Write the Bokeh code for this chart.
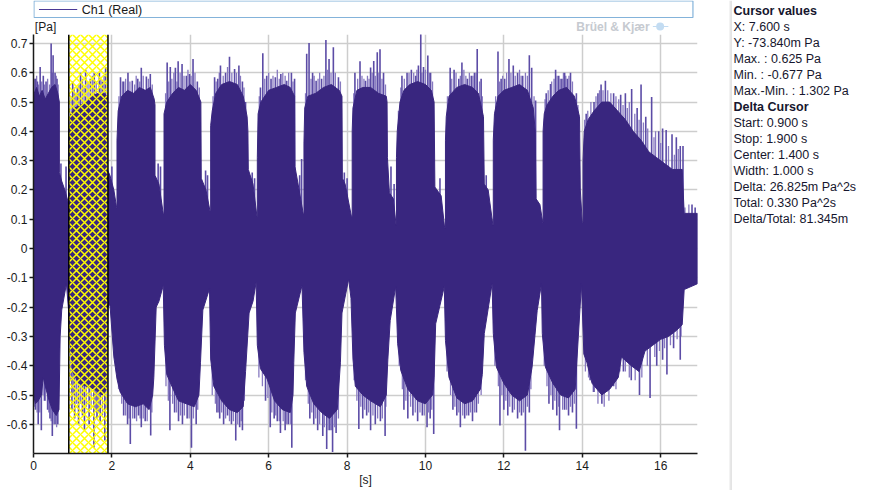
from bokeh.plotting import figure
from bokeh.layouts import row, column
from bokeh.models import Range1d, FixedTicker, Label, Span
from bokeh.embed import file_html
from bokeh.resources import INLINE

# ---------------- data ----------------
# upper envelope of the pressure signal  [s], [Pa]
upper_t = [0.00, 0.02, 0.08, 0.15, 0.22, 0.30, 0.38, 0.46, 0.55, 0.62, 0.66,
           0.66, 0.72, 0.80, 0.90,
           0.92, 0.92, 0.95, 1.05, 1.20, 1.35, 1.50, 1.65, 1.80, 1.88,
           1.88, 1.95, 2.05, 2.12,
           2.13, 2.13, 2.16, 2.25, 2.40, 2.55, 2.70, 2.85, 2.98, 3.08, 3.10,
           3.10, 3.20, 3.31,
           3.33, 3.33, 3.40, 3.55, 3.70, 3.85, 4.00, 4.15, 4.27,
           4.28, 4.40, 4.50,
           4.52, 4.52, 4.56, 4.65, 4.80, 5.00, 5.20, 5.35, 5.45, 5.47,
           5.48, 5.60, 5.70,
           5.71, 5.71, 5.73, 5.80, 6.00, 6.20, 6.40, 6.55, 6.66,
           6.67, 6.75, 6.88,
           6.90, 6.90, 6.92, 7.00, 7.20, 7.40, 7.60, 7.80, 7.87,
           7.88, 7.95, 8.11,
           8.13, 8.13, 8.15, 8.25, 8.40, 8.60, 8.80, 9.00, 9.02,
           9.03, 9.08, 9.18, 9.25,
           9.26, 9.26, 9.28, 9.35, 9.45, 9.60, 9.80, 10.00, 10.15, 10.22,
           10.24, 10.40, 10.49,
           10.51, 10.51, 10.53, 10.60, 10.80, 11.00, 11.20, 11.35, 11.48,
           11.50, 11.60, 11.72,
           11.73, 11.73, 11.76, 11.85, 12.00, 12.20, 12.40, 12.60, 12.75, 12.80,
           12.82, 12.92, 12.99,
           13.00, 13.00, 13.03, 13.10, 13.25, 13.40, 13.60, 13.80, 13.93,
           13.95, 14.00,
           14.02, 14.02, 14.05, 14.15, 14.30, 14.50, 14.70, 14.90, 15.10, 15.30,
           15.50, 15.70, 15.90, 16.10, 16.30, 16.55, 16.60, 16.94]
upper_v = [0.50, 0.53, 0.55, 0.52, 0.54, 0.51, 0.53, 0.55, 0.56, 0.53, 0.50,
           0.26, 0.23, 0.20, 0.15,
           0.16, 0.40, 0.46, 0.48, 0.49, 0.50, 0.52, 0.53, 0.53, 0.52,
           0.27, 0.25, 0.20, 0.14,
           0.14, 0.37, 0.47, 0.52, 0.54, 0.53, 0.55, 0.54, 0.55, 0.51, 0.49,
           0.25, 0.22, 0.12,
           0.12, 0.46, 0.50, 0.53, 0.55, 0.54, 0.56, 0.54, 0.50,
           0.24, 0.20, 0.13,
           0.13, 0.42, 0.47, 0.53, 0.56, 0.57, 0.56, 0.52, 0.45, 0.40,
           0.27, 0.22, 0.11,
           0.11, 0.31, 0.46, 0.50, 0.54, 0.55, 0.56, 0.55, 0.52,
           0.28, 0.22, 0.12,
           0.12, 0.36, 0.48, 0.52, 0.53, 0.55, 0.56, 0.54, 0.52,
           0.24, 0.22, 0.11,
           0.11, 0.40, 0.48, 0.54, 0.55, 0.55, 0.53, 0.52, 0.50,
           0.31, 0.19, 0.17, 0.08,
           0.08, 0.31, 0.40, 0.50, 0.54, 0.56, 0.57, 0.56, 0.54, 0.50,
           0.21, 0.18, 0.07,
           0.07, 0.37, 0.45, 0.52, 0.55, 0.56, 0.55, 0.53, 0.45,
           0.22, 0.20, 0.08,
           0.08, 0.37, 0.46, 0.52, 0.54, 0.55, 0.56, 0.54, 0.48, 0.40,
           0.17, 0.15, 0.09,
           0.09, 0.40, 0.46, 0.49, 0.52, 0.54, 0.55, 0.52, 0.45,
           0.20, 0.09,
           0.09, 0.30, 0.40, 0.44, 0.47, 0.50, 0.50, 0.47, 0.44, 0.40,
           0.37, 0.33, 0.31, 0.29, 0.27, 0.27, 0.12, 0.12]

# lower envelope of the signal
lower_t = [0.00, 0.05, 0.12, 0.20, 0.25, 0.32, 0.40, 0.48, 0.58, 0.65, 0.68, 0.72, 0.84, 0.90,
           0.92, 1.00, 1.15, 1.35, 1.55, 1.75, 1.87, 1.90, 1.95,
           2.05, 2.13, 2.21, 2.40, 2.60, 2.80, 2.95, 3.04, 3.07, 3.13, 3.20, 3.31,
           3.34, 3.40, 3.53, 3.70, 3.90, 4.10, 4.22, 4.26, 4.32, 4.49,
           4.52, 4.60, 4.80, 5.00, 5.20, 5.35, 5.41, 5.50, 5.60, 5.68,
           5.71, 5.79, 5.96, 6.15, 6.35, 6.55, 6.62, 6.64, 6.68, 6.85,
           6.90, 6.97, 7.15, 7.35, 7.55, 7.75, 7.83, 7.87, 8.04, 8.10,
           8.15, 8.21, 8.40, 8.60, 8.85, 9.00, 9.04, 9.10, 9.24,
           9.29, 9.37, 9.55, 9.80, 10.00, 10.18, 10.22, 10.26, 10.48,
           10.51, 10.60, 10.80, 11.00, 11.20, 11.40, 11.45, 11.50, 11.70,
           11.73, 11.81, 12.00, 12.20, 12.40, 12.60, 12.72, 12.85, 12.96,
           12.98, 13.06, 13.25, 13.45, 13.65, 13.82, 13.90, 13.98,
           14.04, 14.12, 14.25, 14.50, 14.70, 14.92, 15.00, 15.25, 15.45,
           15.60, 15.80, 16.00, 16.20, 16.40, 16.55, 16.60, 16.94]
lower_v = [-0.50, -0.53, -0.52, -0.50, -0.44, -0.48, -0.52, -0.55, -0.57, -0.55, -0.30, -0.21, -0.12, -0.22,
           -0.30, -0.42, -0.46, -0.47, -0.48, -0.50, -0.48, -0.20, -0.19,
           -0.37, -0.445, -0.49, -0.53, -0.54, -0.53, -0.55, -0.50, -0.44, -0.20, -0.18, -0.126,
           -0.33, -0.43, -0.47, -0.52, -0.53, -0.54, -0.50, -0.39, -0.21, -0.137,
           -0.377, -0.47, -0.52, -0.55, -0.56, -0.54, -0.42, -0.22, -0.18, -0.115,
           -0.33, -0.41, -0.445, -0.52, -0.55, -0.56, -0.50, -0.39, -0.22, -0.126,
           -0.354, -0.47, -0.53, -0.56, -0.58, -0.55, -0.39, -0.22, -0.104, -0.17,
           -0.377, -0.47, -0.50, -0.52, -0.54, -0.50, -0.38, -0.246, -0.13,
           -0.325, -0.416, -0.48, -0.52, -0.53, -0.50, -0.44, -0.257, -0.13,
           -0.314, -0.44, -0.51, -0.53, -0.52, -0.48, -0.43, -0.29, -0.12,
           -0.29, -0.405, -0.46, -0.50, -0.52, -0.50, -0.405, -0.212, -0.12,
           -0.29, -0.405, -0.46, -0.50, -0.51, -0.48, -0.30, -0.12,
           -0.36, -0.39, -0.46, -0.50, -0.48, -0.44, -0.37, -0.40, -0.42,
           -0.35, -0.33, -0.31, -0.30, -0.28, -0.26, -0.14, -0.12]

# single tall peaks standing out above the upper envelope
peak_up_t = [0.05, 0.10, 0.17, 0.25, 0.32, 0.45, 0.50, 0.55, 0.60, 0.70, 0.83,
             1.00, 1.12, 1.20, 1.33, 1.45, 1.55, 1.68, 1.76, 1.84, 2.00,
             2.22, 2.30, 2.41, 2.52, 2.66, 2.75, 2.88, 2.98, 3.18, 3.24,
             3.41, 3.49, 3.62, 3.69, 3.79, 3.90, 3.98, 4.07, 4.18, 4.39, 4.44,
             4.62, 4.70, 4.77, 4.90, 5.00, 5.13, 5.24, 5.33, 5.41, 5.58, 5.64,
             5.79, 5.85, 5.95, 6.06, 6.17, 6.31, 6.46, 6.58, 6.66, 6.79, 6.84,
             6.97, 7.03, 7.12, 7.21, 7.35, 7.46, 7.54, 7.65, 7.78, 7.93, 8.00,
             8.20, 8.33, 8.47, 8.60, 8.68, 8.77, 8.84, 8.93, 9.12, 9.20,
             9.40, 9.53, 9.64, 9.75, 9.82, 9.88, 9.95, 10.06, 10.13, 10.37,
             10.63, 10.73, 10.85, 10.93, 11.07, 11.17, 11.25, 11.32, 11.42, 11.55,
             11.85, 11.93, 12.02, 12.13, 12.24, 12.35, 12.48, 12.65, 12.71, 12.81,
             13.08, 13.19, 13.32, 13.40, 13.48, 13.55, 13.62, 13.70, 13.85,
             14.10, 14.30, 14.40, 14.48, 14.59, 14.80, 14.98, 15.10, 15.26, 15.40,
             15.50, 15.62, 15.77, 15.95, 16.05, 16.14, 16.29, 16.40, 16.50, 16.57,
             16.80, 16.88]
peak_up_v = [0.58, 0.57, 0.62, 0.59, 0.57, 0.70, 0.66, 0.60, 0.58, 0.29, 0.28,
             0.57, 0.55, 0.60, 0.61, 0.58, 0.60, 0.60, 0.57, 0.62, 0.28,
             0.585, 0.57, 0.60, 0.573, 0.58, 0.617, 0.587, 0.596, 0.29, 0.28,
             0.635, 0.62, 0.617, 0.639, 0.63, 0.59, 0.596, 0.647, 0.57, 0.266, 0.25,
             0.585, 0.58, 0.625, 0.60, 0.655, 0.613, 0.625, 0.57, 0.50, 0.26, 0.24,
             0.55, 0.667, 0.59, 0.58, 0.585, 0.596, 0.573, 0.60, 0.58, 0.25, 0.306,
             0.665, 0.702, 0.60, 0.573, 0.58, 0.712, 0.647, 0.687, 0.585, 0.26, 0.24,
             0.60, 0.639, 0.573, 0.618, 0.64, 0.67, 0.68, 0.60, 0.28, 0.22,
             0.59, 0.60, 0.61, 0.59, 0.625, 0.733, 0.62, 0.659, 0.60, 0.24,
             0.617, 0.61, 0.58, 0.635, 0.58, 0.59, 0.60, 0.681, 0.58, 0.25,
             0.673, 0.58, 0.58, 0.647, 0.625, 0.60, 0.59, 0.66, 0.617, 0.505,
             0.53, 0.562, 0.61, 0.59, 0.58, 0.60, 0.58, 0.60, 0.53,
             0.46, 0.50, 0.53, 0.56, 0.573, 0.53, 0.525, 0.53, 0.545, 0.48,
             0.56, 0.45, 0.517, 0.40, 0.41, 0.405, 0.39, 0.38, 0.35, 0.35,
             0.15, 0.14]

# smaller, fainter peaks that make the ragged top of each burst
small_up_t = [0.03, 0.08, 0.13, 0.21, 0.28, 0.36, 0.41, 0.48, 0.58, 0.63,
              0.96, 1.04, 1.08, 1.16, 1.25, 1.29, 1.39, 1.50, 1.60, 1.72, 1.80,
              2.18, 2.27, 2.35, 2.46, 2.58, 2.62, 2.71, 2.80, 2.93, 3.03,
              3.37, 3.45, 3.53, 3.58, 3.66, 3.74, 3.84, 3.94, 4.02, 4.12, 4.23,
              4.58, 4.66, 4.74, 4.84, 4.95, 5.06, 5.18, 5.28, 5.37,
              5.76, 5.90, 6.00, 6.11, 6.22, 6.27, 6.36, 6.42, 6.51, 6.62,
              6.94, 7.08, 7.16, 7.26, 7.30, 7.41, 7.50, 7.59, 7.70, 7.83,
              8.17, 8.27, 8.38, 8.43, 8.52, 8.56, 8.64, 8.72, 8.81, 8.89, 8.98,
              9.31, 9.37, 9.46, 9.58, 9.70, 9.78, 9.91, 10.00, 10.10, 10.18,
              10.56, 10.67, 10.78, 10.89, 10.98, 11.03, 11.12, 11.21, 11.29, 11.38, 11.45,
              11.79, 11.89, 11.97, 12.07, 12.18, 12.29, 12.40, 12.44, 12.55, 12.60, 12.77,
              13.05, 13.13, 13.22, 13.28, 13.36, 13.44, 13.52, 13.58, 13.66, 13.75, 13.89,
              14.06, 14.14, 14.22, 14.35, 14.44, 14.53, 14.65, 14.73, 14.86, 14.93,
              15.04, 15.15, 15.20, 15.34, 15.45, 15.56, 15.67, 15.83, 15.87, 16.00,
              16.20, 16.35, 16.45, 16.62, 16.72]
small_up_v = [0.58, 0.59, 0.56, 0.57, 0.56, 0.58, 0.56, 0.60, 0.59, 0.56,
              0.52, 0.55, 0.53, 0.56, 0.58, 0.55, 0.57, 0.59, 0.57, 0.58, 0.59,
              0.52, 0.57, 0.58, 0.57, 0.56, 0.59, 0.57, 0.59, 0.58, 0.56,
              0.53, 0.57, 0.58, 0.60, 0.57, 0.60, 0.59, 0.61, 0.59, 0.60, 0.55,
              0.52, 0.57, 0.60, 0.59, 0.62, 0.60, 0.60, 0.59, 0.55,
              0.52, 0.58, 0.60, 0.59, 0.61, 0.58, 0.60, 0.59, 0.60, 0.57,
              0.53, 0.58, 0.59, 0.58, 0.60, 0.59, 0.61, 0.60, 0.60, 0.57,
              0.53, 0.58, 0.59, 0.58, 0.59, 0.58, 0.60, 0.59, 0.60, 0.58, 0.56,
              0.47, 0.55, 0.58, 0.60, 0.60, 0.61, 0.60, 0.61, 0.60, 0.57,
              0.52, 0.58, 0.60, 0.59, 0.61, 0.59, 0.60, 0.59, 0.60, 0.57, 0.52,
              0.52, 0.57, 0.59, 0.60, 0.60, 0.59, 0.61, 0.59, 0.60, 0.59, 0.52,
              0.51, 0.54, 0.57, 0.58, 0.59, 0.58, 0.60, 0.59, 0.59, 0.57, 0.49,
              0.44, 0.47, 0.50, 0.52, 0.54, 0.54, 0.54, 0.53, 0.52, 0.51,
              0.49, 0.48, 0.50, 0.46, 0.44, 0.43, 0.41, 0.38, 0.40, 0.36,
              0.35, 0.32, 0.34, 0.14, 0.15]

# single tall peaks standing out below the lower envelope
peak_dn_t = [0.05, 0.12, 0.20, 0.28, 0.36, 0.42, 0.48, 0.55, 0.62,
             0.98, 1.05, 1.15, 1.25, 1.30, 1.42, 1.54, 1.62, 1.70, 1.82,
             2.30, 2.40, 2.47, 2.58, 2.68, 2.75, 2.85, 2.99,
             3.48, 3.60, 3.70, 3.80, 3.92, 4.03, 4.15,
             4.68, 4.75, 4.85, 4.95, 5.05, 5.16, 5.26, 5.33,
             5.92, 6.04, 6.14, 6.22, 6.30, 6.42, 6.50, 6.59,
             7.05, 7.15, 7.25, 7.38, 7.48, 7.56, 7.63, 7.72,
             8.30, 8.40, 8.50, 8.60, 8.72, 8.85, 8.97,
             9.45, 9.55, 9.68, 9.80, 9.92, 10.04, 10.12, 10.21,
             10.70, 10.80, 10.89, 11.00, 11.10, 11.20, 11.30,
             11.90, 12.00, 12.10, 12.22, 12.35, 12.45, 12.55, 12.65,
             13.15, 13.25, 13.35, 13.42, 13.55, 13.65, 13.75, 13.85,
             14.20, 14.30, 14.50, 14.62, 14.80, 15.05, 15.25, 15.46, 15.73,
             15.90, 16.05, 16.16, 16.33, 16.50]
peak_dn_v = [-0.55, -0.60, -0.62, -0.52, -0.55, -0.58, -0.64, -0.60, -0.60,
             -0.55, -0.58, -0.60, -0.57, -0.62, -0.60, -0.68, -0.58, -0.60, -0.655,
             -0.57, -0.60, -0.667, -0.58, -0.57, -0.61, -0.59, -0.638,
             -0.62, -0.56, -0.59, -0.60, -0.58, -0.68, -0.60,
             -0.56, -0.58, -0.60, -0.57, -0.60, -0.655, -0.61, -0.62,
             -0.52, -0.61, -0.58, -0.59, -0.63, -0.62, -0.60, -0.68,
             -0.58, -0.60, -0.62, -0.64, -0.684, -0.62, -0.695, -0.63,
             -0.616, -0.58, -0.57, -0.62, -0.60, -0.59, -0.64,
             -0.55, -0.58, -0.57, -0.59, -0.57, -0.61, -0.58, -0.633,
             -0.55, -0.57, -0.61, -0.58, -0.57, -0.59, -0.56,
             -0.604, -0.55, -0.57, -0.56, -0.58, -0.57, -0.69, -0.56,
             -0.53, -0.55, -0.57, -0.62, -0.55, -0.57, -0.56, -0.615,
             -0.45, -0.49, -0.53, -0.49, -0.47, -0.42, -0.45, -0.50, -0.51,
             -0.40, -0.38, -0.43, -0.34, -0.38]

# smaller, fainter peaks along the ragged bottom of each burst
small_dn_t = [0.02, 0.09, 0.16, 0.24, 0.30, 0.39, 0.45, 0.52, 0.59,
              0.95, 1.02, 1.10, 1.20, 1.35, 1.47, 1.58, 1.66, 1.76, 1.85,
              2.17, 2.25, 2.35, 2.44, 2.53, 2.63, 2.72, 2.80, 2.90, 3.02,
              3.38, 3.44, 3.55, 3.65, 3.75, 3.85, 3.97, 4.08, 4.19,
              4.56, 4.64, 4.72, 4.80, 4.90, 5.00, 5.10, 5.21, 5.30, 5.38,
              5.75, 5.84, 5.98, 6.08, 6.18, 6.27, 6.37, 6.46, 6.55,
              6.94, 7.01, 7.10, 7.20, 7.30, 7.42, 7.52, 7.60, 7.68, 7.78,
              8.18, 8.25, 8.35, 8.45, 8.55, 8.66, 8.78, 8.90, 8.99,
              9.33, 9.41, 9.50, 9.62, 9.74, 9.86, 9.97, 10.08, 10.16,
              10.55, 10.64, 10.75, 10.85, 10.95, 11.05, 11.15, 11.25, 11.35, 11.42,
              11.77, 11.86, 11.95, 12.05, 12.15, 12.27, 12.40, 12.50, 12.60, 12.69,
              13.03, 13.10, 13.20, 13.30, 13.40, 13.50, 13.60, 13.70, 13.80,
              14.08, 14.16, 14.28, 14.40, 14.56, 14.68, 14.86, 14.96, 15.10, 15.20,
              15.35, 15.52, 15.66, 15.85, 15.97, 16.10, 16.25, 16.42, 16.52]
small_dn_v = [-0.54, -0.56, -0.56, -0.50, -0.52, -0.56, -0.59, -0.60, -0.61,
              -0.45, -0.50, -0.53, -0.53, -0.54, -0.55, -0.55, -0.56, -0.57, -0.55,
              -0.48, -0.53, -0.57, -0.58, -0.58, -0.59, -0.58, -0.58, -0.59, -0.56,
              -0.47, -0.52, -0.53, -0.56, -0.57, -0.57, -0.58, -0.58, -0.55,
              -0.50, -0.53, -0.56, -0.56, -0.58, -0.59, -0.59, -0.60, -0.59, -0.52,
              -0.44, -0.47, -0.51, -0.56, -0.57, -0.59, -0.59, -0.60, -0.60,
              -0.45, -0.53, -0.56, -0.58, -0.60, -0.61, -0.62, -0.62, -0.61, -0.58,
              -0.45, -0.52, -0.54, -0.55, -0.56, -0.57, -0.58, -0.58, -0.54,
              -0.40, -0.48, -0.52, -0.54, -0.56, -0.56, -0.57, -0.56, -0.55,
              -0.42, -0.50, -0.54, -0.56, -0.57, -0.57, -0.56, -0.56, -0.53, -0.50,
              -0.40, -0.47, -0.50, -0.52, -0.54, -0.55, -0.56, -0.56, -0.54, -0.48,
              -0.40, -0.47, -0.50, -0.52, -0.54, -0.55, -0.55, -0.54, -0.53,
              -0.42, -0.44, -0.49, -0.53, -0.54, -0.52, -0.48, -0.42, -0.42, -0.44,
              -0.45, -0.44, -0.40, -0.37, -0.35, -0.34, -0.33, -0.31, -0.30]

cursor_start = 0.9
cursor_stop = 1.9

x_ticks = [0, 2, 4, 6, 8, 10, 12, 14, 16]
x_tick_labels = ["0", "2", "4", "6", "8", "10", "12", "14", "16"]
y_ticks = [-0.6, -0.5, -0.4, -0.3, -0.2, -0.1, 0, 0.1, 0.2, 0.3, 0.4, 0.5, 0.6, 0.7]
y_tick_labels = ["-0.6", "-0.5", "-0.4", "-0.3", "-0.2", "-0.1", "0",
                 "0.1", "0.2", "0.3", "0.4", "0.5", "0.6", "0.7"]

legend_text = "Ch1 (Real)"
x_unit = "[s]"
y_unit = "[Pa]"
watermark = "Br\u00fcel & Kj\u00e6r"
panel_lines = ["Cursor values", "X: 7.600 s", "Y: -73.840m Pa", "Max. : 0.625 Pa",
               "Min. : -0.677 Pa", "Max.-Min. : 1.302 Pa", "Delta Cursor",
               "Start: 0.900 s", "Stop: 1.900 s", "Center: 1.400 s", "Width: 1.000 s",
               "Delta: 26.825m Pa^2s", "Total: 0.330 Pa^2s", "Delta/Total: 81.345m"]
panel_bold = [True, False, False, False, False, False, True,
              False, False, False, False, False, False, False]

# ---------------- styles / layout ----------------
BODY = "#39267f"
PEAK = "#5c4ca6"
LIGHT = "#8779c0"
FONT = "Liberation Sans"
TXT = "#16162e"

LEFT_W, PANEL_W = 729, 146
HEAD_H, MAIN_H = 34, 456
XMIN, XMAX = 0.0, 16.94
YMIN, YMAX = -0.6997, 0.7307


def blank(w, h):
    f = figure(width=w, height=h, x_range=Range1d(0, w), y_range=Range1d(h, 0),
               x_axis_type=None, y_axis_type=None, output_backend="svg",
               toolbar_location=None, title=None, min_border=0)
    f.outline_line_color = None
    f.background_fill_color = "white"
    f.border_fill_color = "white"
    return f


def lab(f, text, x, y, **kw):
    opts = dict(text_font=FONT, text_font_size="12px", text_color=TXT,
                text_baseline="middle", text_align="left")
    opts.update(kw)
    f.add_layout(Label(x=x, y=y, text=text, **opts))


# ---- header with the legend box, unit and watermark ----
head = blank(LEFT_W, HEAD_H)
head.quad(left=[0.5], right=[724], top=[0.5], bottom=[17], fill_color="white",
          line_color="#84b3da", line_width=1.2)
head.segment(x0=[6], y0=[9], x1=[48], y1=[9], line_color="#4a3996", line_width=1.2)
lab(head, legend_text, 53, 9, text_color="#1a1a1a", text_font_size="12.5px")
lab(head, y_unit, 1.5, 26.2, text_color="#1a1a1a")
lab(head, watermark, 596, 26.2, text_color="#c6cad0", text_font_style="bold")
head.scatter(x=[688], y=[26], size=8, marker="circle", fill_color="#c3dcf2",
             line_color=None)
head.segment(x0=[680], y0=[26], x1=[697], y1=[26], line_color="#c3dcf2", line_width=1.2)

# ---- main plot ----
p = figure(width=LEFT_W, height=MAIN_H, x_range=Range1d(XMIN, XMAX),
           y_range=Range1d(YMIN, YMAX), output_backend="svg", toolbar_location=None,
           title=None, min_border_left=33, min_border_right=32, min_border_top=0,
           min_border_bottom=37)
p.outline_line_color = None
p.background_fill_color = "white"
p.border_fill_color = "white"

for ax, ticks, labs in ((p.xaxis, x_ticks, x_tick_labels), (p.yaxis, y_ticks, y_tick_labels)):
    ax.ticker = FixedTicker(ticks=ticks)
    ax.major_label_overrides = {t: l for t, l in zip(ticks, labs)}
    ax.minor_tick_line_color = None
    ax.major_tick_in = 0
    ax.major_tick_out = 4
    ax.major_tick_line_color = "#1a1a1a"
    ax.major_tick_line_width = 1.5
    ax.axis_line_color = "#1a1a1a"
    ax.axis_line_width = 1.5
    ax.major_label_text_font = FONT
    ax.major_label_text_font_size = "12px"
    ax.major_label_text_color = "#1a1a1a"
    ax.major_label_standoff = 2
p.xaxis.major_label_standoff = 3
p.xaxis.axis_label = x_unit
p.xaxis.axis_label_text_font = FONT
p.xaxis.axis_label_text_font_size = "12px"
p.xaxis.axis_label_text_font_style = "normal"
p.xaxis.axis_label_text_color = "#1a1a1a"
p.xaxis.axis_label_standoff = 0
p.xgrid.ticker = FixedTicker(ticks=x_ticks)
p.ygrid.ticker = FixedTicker(ticks=y_ticks)
p.grid.grid_line_color = "#cdcdcd"
p.grid.grid_line_width = 1.5

# peaks first, then the dense body of the signal on top of them
p.segment(x0=small_up_t, y0=[0] * len(small_up_t), x1=small_up_t, y1=small_up_v,
          line_color=LIGHT, line_width=1.3)
p.segment(x0=small_dn_t, y0=[0] * len(small_dn_t), x1=small_dn_t, y1=small_dn_v,
          line_color=LIGHT, line_width=1.3)
p.segment(x0=peak_up_t, y0=[0] * len(peak_up_t), x1=peak_up_t, y1=peak_up_v,
          line_color=PEAK, line_width=1.6)
p.segment(x0=peak_dn_t, y0=[0] * len(peak_dn_t), x1=peak_dn_t, y1=peak_dn_v,
          line_color=PEAK, line_width=1.6)
p.patch(x=upper_t + lower_t[::-1], y=upper_v + lower_v[::-1],
        fill_color=BODY, line_color=BODY, line_width=1)

# delta cursor
p.quad(left=[cursor_start], right=[cursor_stop], bottom=[YMIN], top=[YMAX],
       fill_color=None, line_color=None, hatch_pattern="diagonal_cross",
       hatch_color="#ffff00", hatch_scale=8, hatch_weight=1.5)
for c in (cursor_start, cursor_stop):
    p.add_layout(Span(location=c, dimension="height", line_color="black", line_width=1.5))

# ---- side panel with the cursor values ----
panel = blank(PANEL_W, HEAD_H + MAIN_H)
panel.segment(x0=[0.5, 2.0], y0=[0, 0], x1=[0.5, 2.0], y1=[HEAD_H + MAIN_H] * 2,
              line_color=["#d0d0d0", "#e4e4e4"], line_width=1)
panel_y = [10.7, 26.2, 42.4, 58.3, 74.2, 90.1, 106.6, 122.6, 138.7, 154.8, 170.8, 186.7, 202.4, 218.4]
for txt, yy, b in zip(panel_lines, panel_y, panel_bold):
    lab(panel, txt, 4, yy, text_font_size="12.5px",
        text_font_style="bold" if b else "normal")

layout = row(column(head, p, spacing=0), panel, spacing=0)
open("out.html", "w").write(file_html(layout, INLINE))
